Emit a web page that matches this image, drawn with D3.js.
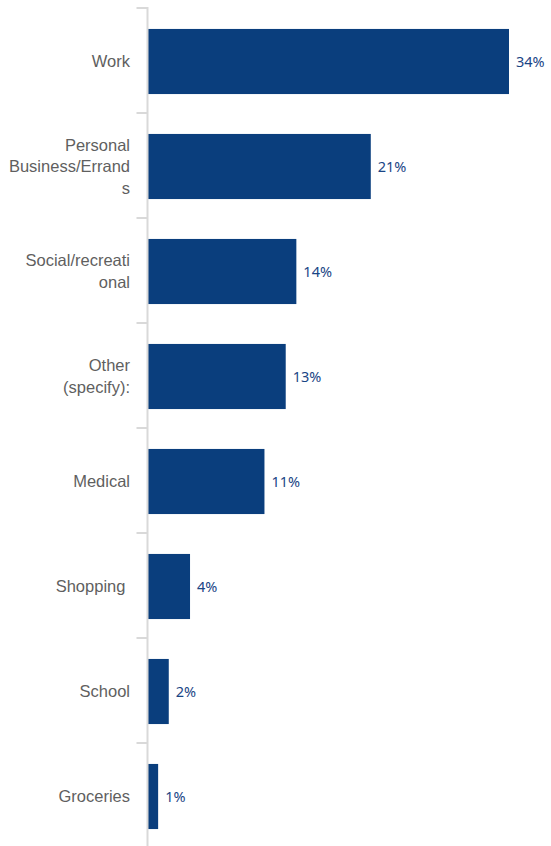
<!DOCTYPE html>
<html>
<head>
<meta charset="utf-8">
<script src="https://cdn.jsdelivr.net/npm/d3@7"></script>
<style>
  html, body { margin: 0; padding: 0; background: #ffffff; }
  svg { display: block; }
</style>
</head>
<body>
<svg id="chart" width="551" height="846"></svg>
<script>
// Trip purposes, share of trips (%)
const categories = [
  "Work",
  "Personal Business/Errands",
  "Social/recreational",
  "Other (specify):",
  "Medical",
  "Shopping",
  "School",
  "Groceries"
];
const values = [34, 21, 14, 13, 11, 4, 2, 1];
// Category labels as they wrap beside the axis
const tickLabels = [
  ["Work"],
  ["Personal", "Business/Errand", "s"],
  ["Social/recreati", "onal"],
  ["Other", "(specify):"],
  ["Medical"],
  ["Shopping\u00a0"],
  ["School"],
  ["Groceries"]
];

const svg = d3.select("#chart");
const axisX = 147.5;
const plotTop = 8, plotBottom = 848;

const x = d3.scaleLinear().domain([0, 34]).range([axisX, 509]);
// bars sit a pixel below the band centre
const y = d3.scaleBand().domain(categories).range([plotTop + 1, plotBottom + 1]).paddingInner(0.38).paddingOuter(0.19);
const yBand = d3.scaleBand().domain(categories).range([plotTop, plotBottom]).padding(0);

// bars
svg.append("g").selectAll("rect")
  .data(categories)
  .join("rect")
  .attr("x", axisX + 0.5)
  .attr("y", d => y(d))
  .attr("width", (d, i) => x(values[i]) - axisX - 0.5)
  .attr("height", y.bandwidth())
  .attr("fill", "#0a3e7d");

// value labels
svg.append("g").selectAll("text")
  .data(categories)
  .join("text")
  .attr("x", (d, i) => x(values[i]) + 7)
  .attr("y", d => y(d) + y.bandwidth() / 2)
  .attr("dy", "0.35em")
  .attr("font-family", "'Noto Sans', 'Open Sans', sans-serif")
  .attr("font-size", 14.5)
  .attr("fill", "#1a4585")
  .text((d, i) => values[i] + "%");

// category axis: vertical line with ticks at band boundaries
const axisG = svg.append("g");
axisG.append("line")
  .attr("x1", axisX).attr("x2", axisX)
  .attr("y1", plotTop - 1).attr("y2", plotBottom)
  .attr("stroke", "#d9d9d9").attr("stroke-width", 2);
const boundaries = categories.map(c => yBand(c)).concat([plotBottom]);
axisG.selectAll("line.tick")
  .data(boundaries)
  .join("line")
  .attr("class", "tick")
  .attr("x1", axisX - 11).attr("x2", axisX)
  .attr("y1", d => d).attr("y2", d => d)
  .attr("stroke", "#d9d9d9").attr("stroke-width", 2);

// category labels
const lineH = 21.7;
const labels = svg.append("g")
  .attr("font-family", "'Liberation Sans', Arial, sans-serif")
  .attr("font-size", 16.5)
  .attr("fill", "#5f5f5f")
  .attr("text-anchor", "end");
labels.selectAll("text")
  .data(categories)
  .join("text")
  .attr("transform", d => `translate(130,${y(d) + y.bandwidth() / 2})`)
  .each(function(d, i) {
    const lines = tickLabels[i];
    const t = d3.select(this);
    lines.forEach((ln, k) => {
      t.append("tspan")
        .attr("x", 0)
        .attr("y", (k - (lines.length - 1) / 2) * lineH)
        .attr("dy", "0.35em")
        .text(ln);
    });
  });
</script>
</body>
</html>
